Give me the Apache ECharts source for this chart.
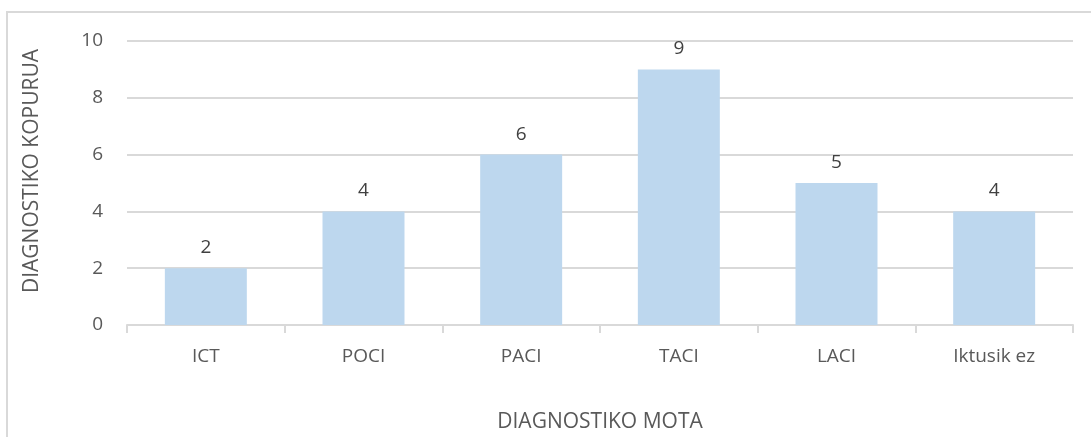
<!DOCTYPE html>
<html>
<head>
<meta charset="utf-8">
<script src="https://cdn.jsdelivr.net/npm/echarts@6/dist/echarts.min.js"></script>
<style>
  html, body { margin: 0; padding: 0; background: #fff; overflow: hidden; }
  #frame { position: absolute; left: 6px; top: 11px; width: 1085px; height: 426px;
           border-left: 2px solid #d9d9d9; border-top: 2px solid #d9d9d9; box-sizing: border-box; }
  #main { position: absolute; left: 0; top: 0; width: 1091px; height: 437px; }
</style>
</head>
<body>
<div id="frame"></div>
<div id="main"></div>
<script>
var categories = ['ICT', 'POCI', 'PACI', 'TACI', 'LACI', 'Iktusik ez'];
var counts = [2, 4, 6, 9, 5, 4];
var yTicks = [0, 2, 4, 6, 8, 10];

var myChart = echarts.init(document.getElementById('main'));
var font = '"Open Sans", sans-serif';

option = {
    animation: false,
    grid: {
        left: 127,
        right: 18,
        top: 41,
        bottom: 112,
        containLabel: false,
        outerBoundsMode: 'none'
    },
    xAxis: [{
        type: 'category',
        data: categories,
        name: 'DIAGNOSTIKO MOTA',
        nameLocation: 'middle',
        nameGap: 87,
        nameTextStyle: { color: '#595959', fontSize: 21, fontFamily: font },
        axisLine: { lineStyle: { color: '#d9d9d9', width: 2 } },
        axisTick: { show: true, length: 8, lineStyle: { color: '#d9d9d9', width: 2 } },
        axisLabel: { color: '#595959', fontSize: 19, fontFamily: font, margin: 22 }
    }],
    yAxis: [{
        type: 'value',
        min: 0,
        max: 10,
        interval: 2,
        name: 'DIAGNOSTIKO KOPURUA',
        nameLocation: 'middle',
        nameGap: 84,
        nameTextStyle: { color: '#595959', fontSize: 21, fontFamily: font, padding: [0, 0, 0, 24] },
        axisLine: { show: false },
        axisTick: { show: false },
        axisLabel: {
            color: '#595959', fontSize: 19, fontFamily: font, margin: 24,
            formatter: function (v) { return yTicks.indexOf(v) >= 0 ? String(v) : ''; }
        },
        splitLine: { lineStyle: { color: '#d9d9d9', width: 2 } }
    }],
    series: [{
        name: 'DIAGNOSTIKO KOPURUA',
        type: 'bar',
        barWidth: '52%',
        data: counts,
        itemStyle: { color: '#bdd7ee' },
        label: {
            show: true,
            position: 'top',
            distance: 11,
            color: '#404040',
            fontSize: 19,
            fontFamily: font
        }
    }]
};

myChart.setOption(option);
</script>
</body>
</html>
